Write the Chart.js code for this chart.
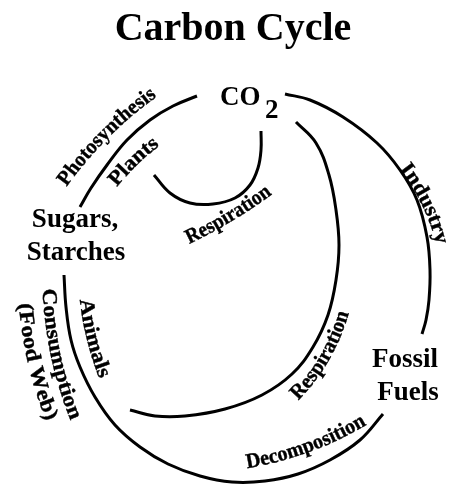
<!DOCTYPE html>
<html>
<head>
<meta charset="utf-8">
<script src="https://cdn.jsdelivr.net/npm/chart.js@4.4.1/dist/chart.umd.min.js"></script>
<style>
    body { margin: 0; background: #fff; }
    #divCanvas { width: 454px; height: 486px; }
</style>
</head>
<body>
<div id="divCanvas"><canvas id="cycleChart" width="454" height="486"></canvas></div>
<script>
// arcs of the cycle as [x, y]
var photosynthesisArc = [[197, 96], [173, 106], [150, 120], [127, 140], [107, 165], [91, 188], [80, 207]];
var plantRespirationArc = [[261, 131], [261, 150], [258, 168], [250, 185], [235, 198], [213, 204], [190, 203], [170, 193], [154, 175]];
var respirationArc = [[296, 122], [316, 143], [329, 175], [336, 210], [339, 245], [336, 280], [328, 315], [313, 347], [292, 374], [262, 395], [225, 409], [185, 416], [155, 416], [130, 410]];
var industryArc = [[285, 94], [310, 100], [343, 117], [377, 143], [400, 170], [417, 200], [427, 237], [430, 270], [429, 300], [426, 320], [422, 334]];
var consumptionArc = [[64, 275], [66, 307], [71, 340], [80, 367], [95, 397], [115, 425], [140, 447], [168, 464], [200, 476], [232, 482], [265, 481], [298, 474], [330, 460], [360, 440], [383, 414]];

var titleText = "Carbon Cycle";
var poolNames = ["Sugars,", "Starches", "Fossil", "Fuels"];
var co2Parts = ["CO", "2"];
var processNames = ["Photosynthesis", "Plants", "Respiration", "Industry", "Respiration", "Decomposition", "Animals", "Consumption", "(Food Web)"];

var SERIF = '"Liberation Serif", "Times New Roman", serif';

function toPoints(arr) {
    var out = [];
    for (var i = 0; i < arr.length; i++) {
        out.push({ x: arr[i][0], y: arr[i][1] });
    }
    return out;
}

function arcDataset(arr) {
    return {
        data: toPoints(arr),
        showLine: true,
        borderColor: '#000',
        borderWidth: 3,
        pointRadius: 0,
        tension: 0.4,
        fill: false
    };
}

// text bent round a circle; p = baseline middle, ang = text direction there
function drawArcText(ctx, text, px, py, ang, R, len, size, smile) {
    ctx.font = 'bold ' + size + 'px ' + SERIF;
    var w = ctx.measureText(text).width;
    var k = len / w;
    var phi = ang * Math.PI / 180;
    var ux = Math.sin(phi), uy = -Math.cos(phi);
    var sgn = smile ? 1 : -1;
    var cx = px + sgn * R * ux, cy = py + sgn * R * uy;
    var th0 = Math.atan2(py - cy, px - cx);
    var s = -len / 2;
    for (var i = 0; i < text.length; i++) {
        var ch = text[i];
        var cw = ctx.measureText(ch).width * k;
        var sm = s + cw / 2;
        var th = smile ? th0 - sm / R : th0 + sm / R;
        ctx.save();
        ctx.translate(cx + R * Math.cos(th), cy + R * Math.sin(th));
        ctx.rotate(smile ? th - Math.PI / 2 : th + Math.PI / 2);
        ctx.scale(k, 1);
        ctx.textAlign = 'center';
        ctx.textBaseline = 'alphabetic';
        ctx.fillText(ch, 0, 0);
        ctx.strokeText(ch, 0, 0);
        ctx.restore();
        s += cw;
    }
}

var labelPlugin = {
    id: 'cycleLabels',
    afterDatasetsDraw: function (chart) {
        var ctx = chart.ctx;
        var xs = chart.scales.x, ys = chart.scales.y;
        var X = function (v) { return xs.getPixelForValue(v); };
        var Y = function (v) { return ys.getPixelForValue(v); };
        ctx.save();
        ctx.fillStyle = '#000';
        ctx.strokeStyle = '#000';
        ctx.lineWidth = 0.4;
        ctx.textBaseline = 'alphabetic';

        ctx.textAlign = 'center';
        ctx.font = 'bold 40px ' + SERIF;
        ctx.fillText(titleText, X(233), Y(40));

        ctx.font = 'bold 27px ' + SERIF;
        ctx.fillText(poolNames[0], X(75), Y(227));
        ctx.fillText(poolNames[1], X(76), Y(260));
        ctx.fillText(poolNames[2], X(405), Y(367));
        ctx.fillText(poolNames[3], X(408), Y(400));

        ctx.textAlign = 'left';
        ctx.fillText(co2Parts[0], X(220), Y(105));
        ctx.fillText(co2Parts[1], X(265), Y(118));

        // [x, y, angle, radius, length, smile]
        var placing = [
            [108, 138, -45, 390, 128, false],
            [137, 165, -44, 250, 60, false],
            [232, 221, -31, 500, 97, true],
            [422, 205, 64, 200, 85, false],
            [329, 360, -60, 200, 102, true],
            [309, 452, -20, 350, 128, true],
            [87, 340, 76, 300, 82, true],
            [51, 356, 78, 400, 135, true],
            [28, 363, 77, 400, 120, true]
        ];
        for (var i = 0; i < processNames.length; i++) {
            var p = placing[i];
            drawArcText(ctx, processNames[i], X(p[0]), Y(p[1]), p[2], p[3], p[4], 21, p[5]);
        }
        ctx.restore();
    }
};

var ctx = document.getElementById("cycleChart");
var myChart = new Chart(ctx, {
    type: 'scatter',
    data: {
        datasets: [
            arcDataset(photosynthesisArc),
            arcDataset(plantRespirationArc),
            arcDataset(respirationArc),
            arcDataset(industryArc),
            arcDataset(consumptionArc)
        ]
    },
    options: {
        responsive: false,
        animation: false,
        layout: { padding: 0 },
        scales: {
            x: { type: 'linear', min: 0, max: 454, display: false },
            y: { type: 'linear', min: 0, max: 486, reverse: true, display: false }
        },
        plugins: {
            legend: { display: false },
            title: { display: false },
            tooltip: { enabled: false }
        }
    },
    plugins: [labelPlugin]
});
</script>
</body>
</html>
